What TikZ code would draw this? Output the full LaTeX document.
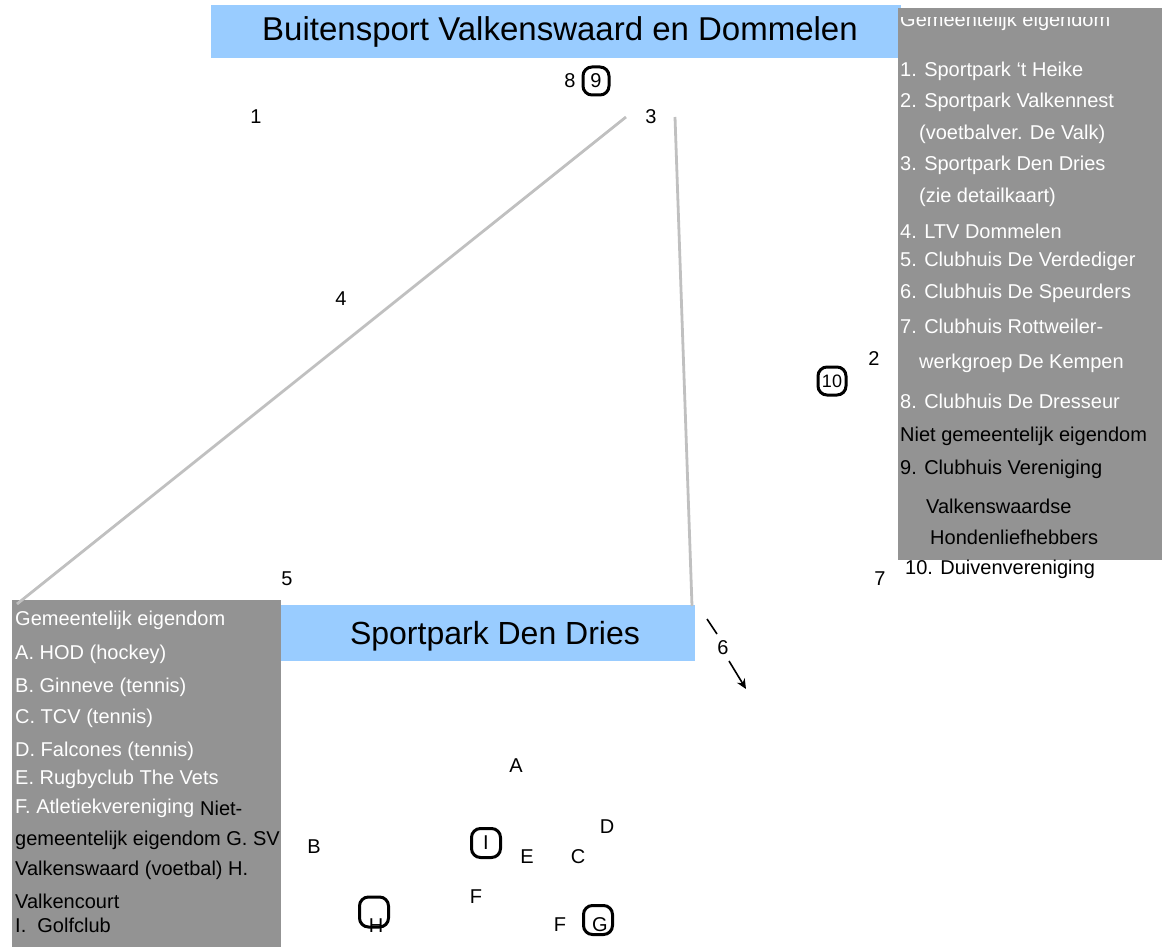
\documentclass[tikz,border=0pt]{standalone}
\usepackage{fontspec}
\setmainfont{Liberation Sans}
\usetikzlibrary{arrows.meta}
\definecolor{banner}{RGB}{153,204,255}
\definecolor{boxgray}{RGB}{147,147,147}
\definecolor{linegray}{RGB}{192,192,192}
\tikzset{
  lbl/.style={font=\fontsize{20}{22}\selectfont, inner sep=0pt},
  wl/.style={font=\fontsize{20}{22}\selectfont, text=white, anchor=west, inner sep=0pt},
  bl/.style={font=\fontsize{20}{22}\selectfont, text=black, anchor=west, inner sep=0pt},
  ring/.style={draw=black, line width=3pt, rounded corners=9pt, inner sep=0pt},
  conn/.style={draw=linegray, line width=2.8pt},
}
\begin{document}
\begin{tikzpicture}[x=1pt,y=-1pt]
\useasboundingbox (0,0) rectangle (1168,947);
% top banner
\node[fill=banner, minimum width=690pt, minimum height=53pt, anchor=north west, inner sep=0pt] (topbanner) at (211,5) {};
\node[font=\fontsize{33}{36}\selectfont] (toptitle) at (560,32) {Buitensport Valkenswaard en Dommelen};
% right gray box
\node[fill=boxgray, minimum width=264pt, minimum height=552pt, anchor=north west, inner sep=0pt] (rightbox) at (898,8) {};
\begin{scope}
\clip (898,18) rectangle (1162,40);
\node[wl, anchor=base west] (r0) at (900,27) {Gemeentelijk eigendom};
\end{scope}
\node[wl] (r1) at (900,71) {1. Sportpark ‘t Heike};
\node[wl] (r2) at (900,102) {2. Sportpark Valkennest};
\node[wl] (r2b) at (919,134) {(voetbalver. De Valk)};
\node[wl] (r3) at (900,165) {3. Sportpark Den Dries};
\node[wl] (r3b) at (919,197) {(zie detailkaart)};
\node[wl] (r4) at (900,231) {4. LTV Dommelen};
\node[wl] (r5) at (900,261) {5. Clubhuis De Verdediger};
\node[wl] (r6) at (900,293) {6. Clubhuis De Speurders};
\node[wl] (r7) at (900,326) {7. Clubhuis Rottweiler-};
\node[wl] (r7b) at (919,363) {werkgroep De Kempen};
\node[wl] (r8) at (900,401) {8. Clubhuis De Dresseur};
\node[bl] (rn) at (900,436) {Niet gemeentelijk eigendom};
\node[bl] (r9) at (900,469) {9. Clubhuis Vereniging};
\node[bl] (r9b) at (926,506) {Valkenswaardse};
\node[bl] (r9c) at (930,537) {Hondenliefhebbers};
\node[bl] (r10) at (905,569) {10. Duivenvereniging};
% left gray box
\node[fill=boxgray, minimum width=269pt, minimum height=347pt, anchor=north west, inner sep=0pt] (leftbox) at (12,600) {};
% bottom banner
\node[fill=banner, minimum width=414pt, minimum height=56pt, anchor=north west, inner sep=0pt] (botbanner) at (281,605) {};
\node[font=\fontsize{32}{35}\selectfont] (bottitle) at (495,636) {Sportpark Den Dries};
\node[wl] (l0) at (15,620) {Gemeentelijk eigendom};
\node[wl] (lA) at (15,654) {A. HOD (hockey)};
\node[wl] (lB) at (15,687) {B. Ginneve (tennis)};
\node[wl] (lC) at (15,718) {C. TCV (tennis)};
\node[wl] (lD) at (15,751) {D. Falcones (tennis)};
\node[wl] (lE) at (15,779) {E. Rugbyclub The Vets};
\node[wl] (lF) at (15,808) {F. Atletiekvereniging};
\node[bl] (lF2) at (lF.east) {\ Niet-};
\node[bl] (lG) at (15,840) {gemeentelijk eigendom G. SV};
\node[bl] (lH) at (15,870) {Valkenswaard (voetbal) H.};
\node[bl] (lH2) at (15,901) {Valkencourt};
\node[bl] (lI) at (15,925) {I.\ \ Golfclub};
% connectors
\coordinate (c3a) at (626,117);
\coordinate (c3b) at (675,117);
\coordinate (lbc) at (17,604);
\coordinate (bbc) at (692,606);
\draw[conn] (c3a) -- (lbc);
\draw[conn] (c3b) -- (bbc);
% number labels
\node[lbl] (n1) at (256,117) {1};
\node[lbl] (n3) at (651,117) {3};
\node[lbl] (n8) at (570,81) {8};
\node[ring, minimum width=26pt, minimum height=28pt] (n9) at (596,81) {\fontsize{20}{22}\selectfont 9};
\node[lbl] (n4) at (341,299) {4};
\node[lbl] (n2) at (874,359) {2};
\node[ring, minimum width=28pt, minimum height=28pt] (n10) at (832,381) {\fontsize{18}{20}\selectfont 10};
\node[lbl] (n5) at (287,579) {5};
\node[lbl] (n7) at (880,579) {7};
\node[lbl] (n6) at (723,648) {6};
\coordinate (s6a) at (707,619);
\coordinate (s6b) at (717,634);
\coordinate (a6a) at (729,661);
\coordinate (a6b) at (746,689);
\draw[line width=1.6pt] (s6a) -- (s6b);
\draw[line width=1.6pt, -{Stealth[length=10pt,width=9pt]}] (a6a) -- (a6b);
% letter labels
\node[lbl] (mA) at (516,766) {A};
\node[lbl] (mB) at (314,847) {B};
\node[lbl] (mD) at (607,827) {D};
\node[ring, minimum width=29pt, minimum height=29pt] (mI) at (486,843) {\fontsize{20}{22}\selectfont I};
\node[lbl] (mE) at (527,857) {E};
\node[lbl] (mC) at (578,857) {C};
\node[lbl] (mF1) at (476,897) {F};
\node[ring, minimum width=29pt, minimum height=30pt] (mHr) at (374,912) {};
\node[lbl] (mH) at (376,926) {H};
\node[lbl] (mF2) at (560,925) {F};
\node[ring, minimum width=29pt, minimum height=29pt] (mGr) at (598,920) {};
\node[lbl] (mG) at (600,925) {G};
\end{tikzpicture}
\end{document}
